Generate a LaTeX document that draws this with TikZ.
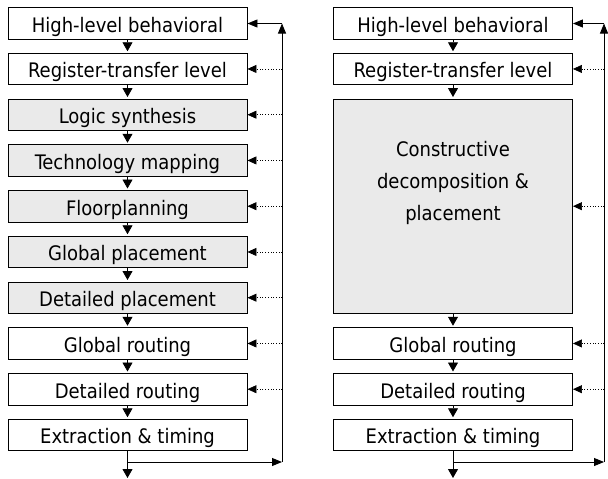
\documentclass[tikz,border=0pt]{standalone}
\usepackage{fontspec}
\setmainfont{DejaVu Sans Condensed}
\usetikzlibrary{arrows.meta,calc}
\definecolor{boxgray}{RGB}{234,234,234}
\tikzset{
  x=1pt,y=1pt,
  stagebox/.style={draw=black,line width=0.9pt,minimum width=239pt,minimum height=31.5pt,inner sep=0pt,anchor=north,text height=19pt,text depth=1pt,font=\fontsize{20}{22}\selectfont},
  grayfill/.style={fill=boxgray},
  downarrow/.style={line width=0.8pt,-{Triangle[width=10pt,length=9pt]},shorten >=1.5pt},
  dotarrow/.style={line width=0.7pt,dotted,-{Triangle[width=8pt,length=9pt,sep=0pt]}},
  solidarrow/.style={line width=0.9pt,-{Triangle[width=8pt,length=10pt]}},
  plainline/.style={line width=0.9pt}
}
\begin{document}
\begin{tikzpicture}
\useasboundingbox (0,0) rectangle (608,-479);
% left column
\node[stagebox] (L1) at (127.5,-7) {High-level behavioral};
\node[stagebox] (L2) at (127.5,-52.75) {Register-transfer level};
\node[stagebox,grayfill] (L3) at (127.5,-98.5) {Logic synthesis};
\node[stagebox,grayfill] (L4) at (127.5,-144.25) {Technology mapping};
\node[stagebox,grayfill] (L5) at (127.5,-190) {Floorplanning};
\node[stagebox,grayfill] (L6) at (127.5,-235.75) {Global placement};
\node[stagebox,grayfill] (L7) at (127.5,-281.5) {Detailed placement};
\node[stagebox] (L8) at (127.5,-327.25) {Global routing};
\node[stagebox] (L9) at (127.5,-373) {Detailed routing};
\node[stagebox] (L10) at (127.5,-418.75) {Extraction \& timing};
\foreach \a/\b in {L1/L2,L2/L3,L3/L4,L4/L5,L5/L6,L6/L7,L7/L8,L8/L9,L9/L10}
  \draw[downarrow] (\a.south) -- (\b.north);
\coordinate (LT) at (282,-23.5);
\coordinate (LB) at (282,-462);
\coordinate (LE) at (127.5,-478);
\draw[downarrow,shorten >=0pt] (L10.south) -- (LE);
\draw[solidarrow] (L10.south |- LB) -- (LB);
\draw[solidarrow] (LB) -- (LT);
\draw[solidarrow] (LT) -- (L1.east |- LT);
\foreach \b in {L2,L3,L4,L5,L6,L7,L8,L9}
  \draw[dotarrow] (\b.east -| LT) -- (\b.east);
% right column
\node[stagebox] (R1) at (453,-7) {High-level behavioral};
\node[stagebox] (R2) at (453,-52.75) {Register-transfer level};
\node[stagebox,grayfill,minimum height=214.5pt] (R3) at (453,-98.5) {};
\node[align=center,font=\fontsize{20}{32}\selectfont,inner sep=0pt] (R3t) at (453,-183) {Constructive\\decomposition \&\\placement};
\node[stagebox] (R8) at (453,-327.25) {Global routing};
\node[stagebox] (R9) at (453,-373) {Detailed routing};
\node[stagebox] (R10) at (453,-418.75) {Extraction \& timing};
\foreach \a/\b in {R1/R2,R2/R3,R3/R8,R8/R9,R9/R10}
  \draw[downarrow] (\a.south) -- (\b.north);
\coordinate (RT) at (604,-23.5);
\coordinate (RB) at (604,-462);
\coordinate (RE) at (453,-478);
\draw[downarrow,shorten >=0pt] (R10.south) -- (RE);
\draw[solidarrow] (R10.south |- RB) -- (RB);
\draw[solidarrow] (RB) -- (RT);
\draw[solidarrow] (RT) -- (R1.east |- RT);
\foreach \b in {R2,R3,R8,R9}
  \draw[dotarrow] (\b.east -| RT) -- (\b.east);
\end{tikzpicture}
\end{document}
